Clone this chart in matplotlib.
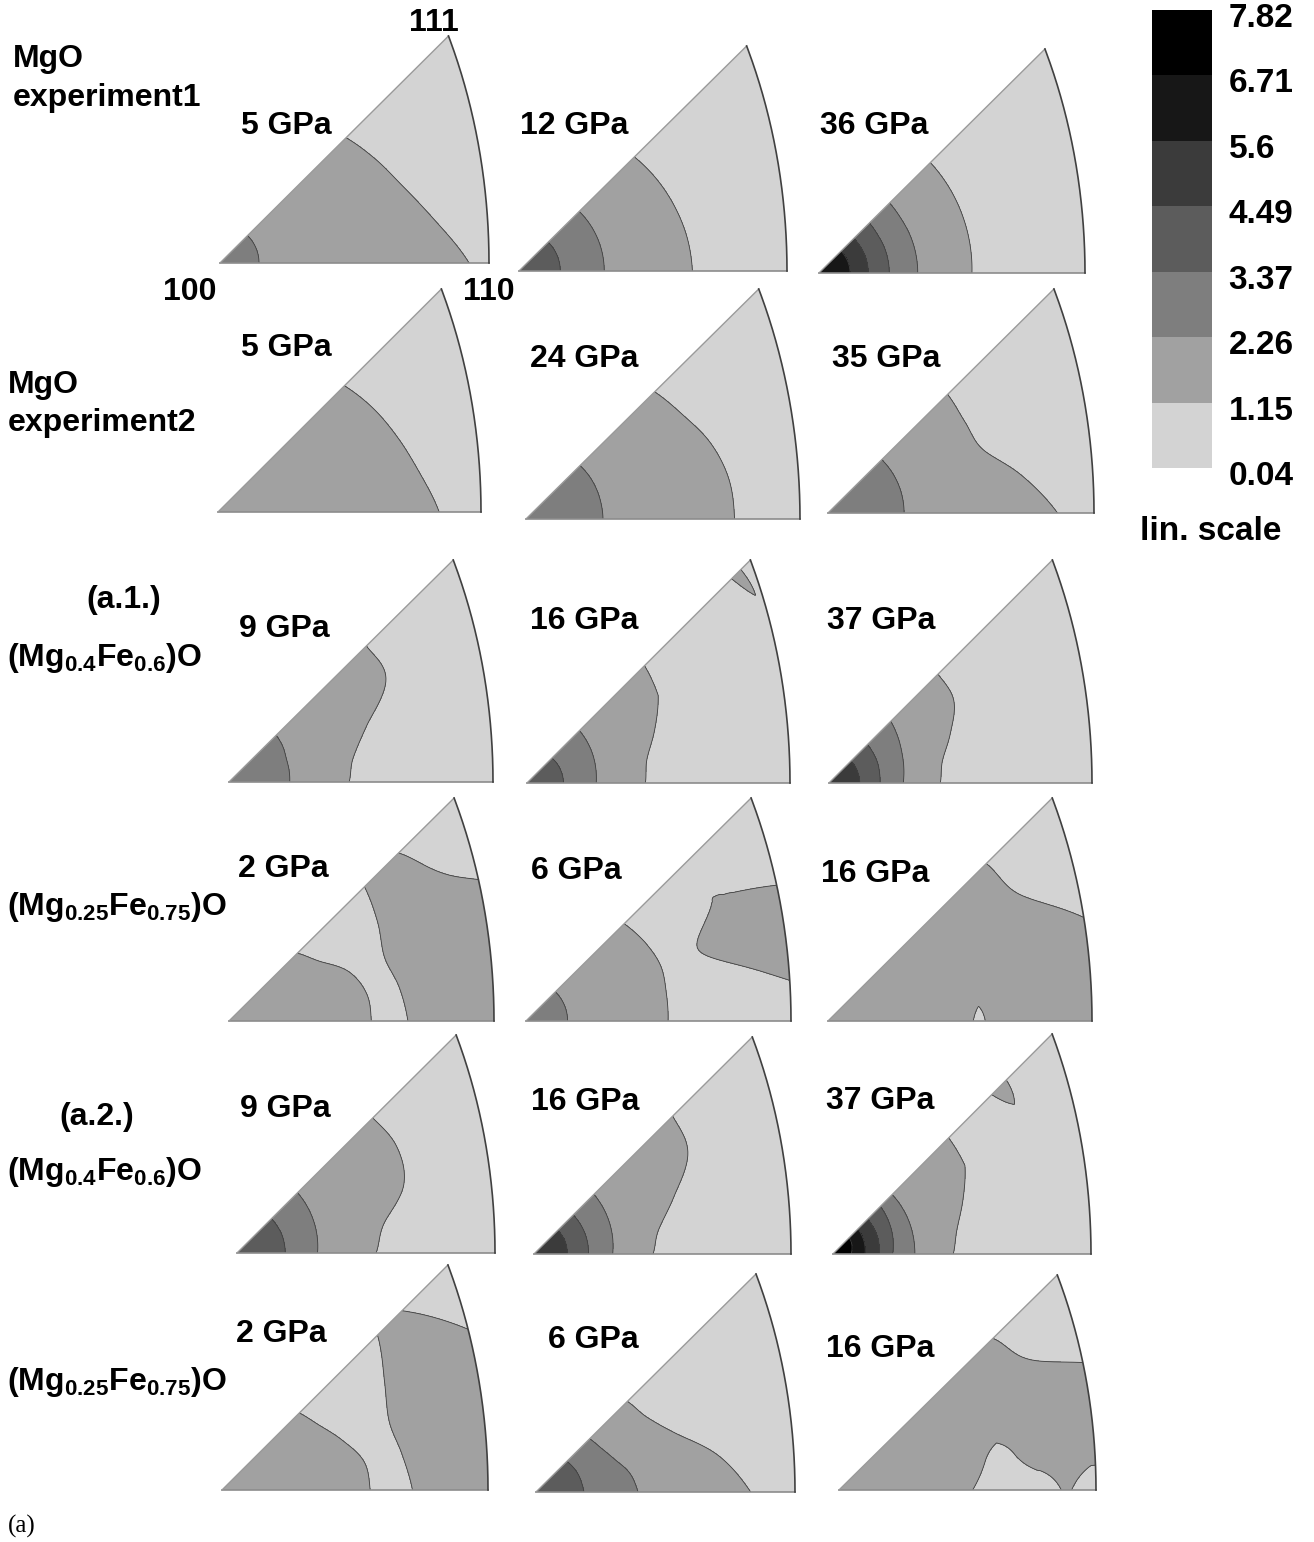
import numpy as np
import matplotlib
matplotlib.use('Agg')
import matplotlib.pyplot as plt
from matplotlib.colors import ListedColormap, BoundaryNorm
from matplotlib.cm import ScalarMappable
from matplotlib.patches import PathPatch
from matplotlib.path import Path
from matplotlib.transforms import ScaledTranslation

plt.rcParams['font.family'] = ['Liberation Sans', 'DejaVu Sans']
plt.rcParams['font.weight'] = 'bold'
plt.rcParams['mathtext.fontset'] = 'custom'
plt.rcParams['mathtext.rm'] = 'Liberation Sans:bold'
plt.rcParams['mathtext.bf'] = 'Liberation Sans:bold'
plt.rcParams['mathtext.it'] = 'Liberation Sans:bold'

# colour scale (lin. scale)
levels = [0.04, 1.15, 2.26, 3.37, 4.49, 5.6, 6.71, 7.82]
level_labels = ['0.04', '1.15', '2.26', '3.37', '4.49', '5.6', '6.71', '7.82']
band_colors = ['#d3d3d3', '#a1a1a1', '#7e7e7e', '#5c5c5c', '#3b3b3b', '#171717', '#000000']

# rays from the 100 corner (deg) on which band boundaries were read
ray_angles = [0, 11.25, 22.5, 33.75, 45]

# per panel, per ray: (radii where a boundary is crossed, relative to |100-110|), band sequence
# (radii beyond the 110-111 arc, or a repeated radius, only keep neighbouring rays consistent)
r1c1 = [([.145, .926], [2, 1, 0]), ([.145, .815], [2, 1, 0]), ([.145, .74], [2, 1, 0]),
        ([.145, .697], [2, 1, 0]), ([.145, .663], [2, 1, 0])]
r1c2 = [([.154, .318, .647], [3, 2, 1, 0]), ([.154, .318, .64], [3, 2, 1, 0]),
        ([.154, .318, .63], [3, 2, 1, 0]), ([.154, .318, .62], [3, 2, 1, 0]),
        ([.154, .318, .609], [3, 2, 1, 0])]
r1c3 = [([.117, .185, .264, .371, .575], [5, 4, 3, 2, 1, 0]),
        ([.117, .185, .264, .371, .578], [5, 4, 3, 2, 1, 0]),
        ([.117, .185, .264, .371, .582], [5, 4, 3, 2, 1, 0]),
        ([.117, .185, .264, .371, .587], [5, 4, 3, 2, 1, 0]),
        ([.118, .185, .268, .375, .592], [5, 4, 3, 2, 1, 0])]
r2c1 = [([.841], [1, 0]), ([.78], [1, 0]), ([.74], [1, 0]), ([.71], [1, 0]), ([.68], [1, 0])]
r2c2 = [([.281, .761], [2, 1, 0]), ([.28, .755], [2, 1, 0]), ([.28, .73], [2, 1, 0]),
        ([.28, .69], [2, 1, 0]), ([.279, .664], [2, 1, 0])]
r2c3 = [([.286, .863], [2, 1, 0]), ([.286, .74], [2, 1, 0]), ([.286, .63], [2, 1, 0]),
        ([.286, .62], [2, 1, 0]), ([.286, .636], [2, 1, 0])]
r3c1 = [([.23, .455], [2, 1, 0]), ([.232, .48], [2, 1, 0]), ([.235, .565], [2, 1, 0]),
        ([.245, .715], [2, 1, 0]), ([.253, .736], [2, 1, 0])]
r3c2 = [([.139, .263, .45], [3, 2, 1, 0]), ([.138, .267, .465], [3, 2, 1, 0]),
        ([.137, .272, .525], [3, 2, 1, 0]), ([.136, .277, .60], [3, 2, 1, 0]),
        ([.134, .282, .632, 1.10, 1.15], [3, 2, 1, 0, 1, 0])]
r3c3 = [([.117, .194, .282, .423], [4, 3, 2, 1, 0]), ([.117, .196, .29, .44], [4, 3, 2, 1, 0]),
        ([.117, .2, .30, .50], [4, 3, 2, 1, 0]), ([.118, .203, .315, .57], [4, 3, 2, 1, 0]),
        ([.118, .207, .332, .586], [4, 3, 2, 1, 0])]
r4c1 = [([.537, .675, 1.3], [1, 0, 1, 0]), ([.53, .655, 1.3], [1, 0, 1, 0]),
        ([.49, .635, 1.25], [1, 0, 1, 0]), ([.41, .675, 1.0], [1, 0, 1, 0]),
        ([.365, .723, .905], [1, 0, 1, 0])]
r4c2 = [([.157, .536, 1.35, 1.35], [2, 1, 0, 1, 0]), ([.157, .54, .93, 1.3], [2, 1, 0, 1, 0]),
        ([.157, .55, .705, 1.3], [2, 1, 0, 1, 0]), ([.157, .54, .85, .85], [2, 1, 0, 1, 0]),
        ([.157, .524], [2, 1, 0])]
r4c3 = [([.55, .596], [1, 0, 1]), ([1.25], [1, 0]), ([1.04], [1, 0]), ([.87], [1, 0]),
        ([.848], [1, 0])]
r5c1 = [([.187, .312, .539], [3, 2, 1, 0]), ([.187, .317, .58], [3, 2, 1, 0]),
        ([.188, .322, .70], [3, 2, 1, 0]), ([.188, .327, .745], [3, 2, 1, 0]),
        ([.189, .332, .744], [3, 2, 1, 0])]
r5c2 = [([.13, .212, .306, .463], [4, 3, 2, 1, 0]), ([.13, .213, .312, .495], [4, 3, 2, 1, 0]),
        ([.131, .214, .318, .59], [4, 3, 2, 1, 0]), ([.131, .215, .324, .72], [4, 3, 2, 1, 0]),
        ([.132, .216, .33, .763], [4, 3, 2, 1, 0])]
r5c3 = [([.07, .124, .179, .231, .317, .466], [6, 5, 4, 3, 2, 1, 0]),
        ([.075, .127, .182, .238, .318, .49], [6, 5, 4, 3, 2, 1, 0]),
        ([.08, .13, .185, .245, .32, .545], [6, 5, 4, 3, 2, 1, 0]),
        ([.085, .133, .187, .252, .322, .615], [6, 5, 4, 3, 2, 1, 0]),
        ([.09, .137, .19, .26, .324, .634, .87, .95], [6, 5, 4, 3, 2, 1, 0, 1, 0])]
r6c1 = [([.557, .716, 1.3], [1, 0, 1, 0]), ([.545, .69, 1.3], [1, 0, 1, 0]),
        ([.49, .68, 1.25], [1, 0, 1, 0]), ([.44, .735, 1.1], [1, 0, 1, 0]),
        ([.411, .827, .957], [1, 0, 1, 0])]
r6c2 = [([.185, .394, .829], [3, 2, 1, 0]), ([.18, .37, .72], [3, 2, 1, 0]),
        ([.177, .33, .59], [3, 2, 1, 0]), ([.173, .305, .52], [3, 2, 1, 0]),
        ([.169, .293, .499], [3, 2, 1, 0])]
r6c3 = [([.52, .865, .905], [1, 0, 1, 0]), ([.58, .70], [1, 0, 1]), ([1.25], [1, 0]),
        ([.92], [1, 0]), ([.847], [1, 0])]

panels = [[r1c1, r1c2, r1c3], [r2c1, r2c2, r2c3], [r3c1, r3c2, r3c3],
          [r4c1, r4c2, r4c3], [r5c1, r5c2, r5c3], [r6c1, r6c2, r6c3]]
pressures = [['5 GPa', '12 GPa', '36 GPa'], ['5 GPa', '24 GPa', '35 GPa'],
             ['9 GPa', '16 GPa', '37 GPa'], ['2 GPa', '6 GPa', '16 GPa'],
             ['9 GPa', '16 GPa', '37 GPa'], ['2 GPa', '6 GPa', '16 GPa']]

# layout in pixels: 100 corner x, 110 corner x, bottom y, 111 apex y
boxes = [[(220, 489, 263, 36), (519, 787, 271, 46), (819, 1085, 273, 49)],
         [(218, 481, 512, 289), (526, 800, 519, 289), (828, 1094, 513, 289)],
         [(229, 493, 782, 560), (527, 790, 783, 560), (829, 1092, 783, 560)],
         [(229, 494, 1021, 798), (526, 791, 1021, 798), (828, 1092, 1021, 798)],
         [(237, 495, 1253, 1035), (534, 791, 1254, 1037), (833, 1091, 1254, 1034)],
         [(222, 488, 1490, 1265), (536, 795, 1492, 1274), (839, 1096, 1490, 1275)]]
title_pos = [[(241, 134), (520, 134), (820, 134)],
             [(241, 356), (530, 367), (832, 367)],
             [(239, 637), (530, 629), (827, 629)],
             [(238, 877), (531, 879), (821, 882)],
             [(240, 1117), (531, 1110), (826, 1109)],
             [(236, 1342), (548, 1348), (826, 1357)]]

W, H = 1314, 1542
fig = plt.figure(figsize=(W / 100, H / 100), dpi=100)


def ptext(x, y, s, **kw):
    kw.setdefault('fontsize', 23)
    kw.setdefault('fontweight', 'bold')
    fig.text(x / W, 1 - y / H, s, va='baseline', **kw)


# equal-area inverse pole figure triangle (100 - 110 - 111)
t = np.linspace(0, 1, 200)
nrm = np.sqrt(2 + t ** 2)
kk = np.sqrt(2 / (1 + 1 / nrm))
arc_x, arc_y = kk / nrm, kk * t / nrm
R110 = arc_x[0]
TOP = arc_y[-1]
tri_verts = np.vstack([[0, 0], np.column_stack([arc_x, arc_y]), [0, 0]])

xs = np.linspace(0, R110 + 0.005, 440)
ys = np.linspace(0, TOP + 0.005, 380)
X, Y = np.meshgrid(xs, ys)
TH = np.clip(np.degrees(np.arctan2(Y, X)), 0, 45)
RR = np.hypot(X, Y) / R110
R_END = 1.6
RAMP = 0.08


def ray_knots(cross, bands):
    mids = [(levels[b] + levels[b + 1]) / 2 for b in bands]
    edges = [0.0] + list(cross) + [R_END]
    rs, vs = [], []
    for i in range(len(bands)):
        a, b = edges[i], edges[i + 1]
        if b - a > 1e-9:
            lo = a if i == 0 else min(a + RAMP, (a + b) / 2)
            hi = b if i == len(bands) - 1 else max(b - RAMP, (a + b) / 2)
            if not rs or lo > rs[-1]:
                rs.append(lo)
                vs.append(mids[i])
            if hi > rs[-1]:
                rs.append(hi)
                vs.append(mids[i])
        if i < len(cross):
            c = edges[i + 1]
            if c > rs[-1]:
                rs.append(c)
                vs.append(levels[max(bands[i], bands[i + 1])])
    return rs, vs


def same(a, b):
    return a[1] == b[1] and len(a[0]) == len(b[0])


def fine_rays(rays):
    # boundaries with the same band sequence on neighbouring rays are joined
    # by a smooth (Hermite) curve; otherwise the sector is blended directly
    n = len(rays)
    step = ray_angles[1] - ray_angles[0]
    out = []

    def slope(j, i0, i1):
        lo = j - 1 if j - 1 >= 0 and same(rays[j - 1], rays[j]) else None
        hi = j + 1 if j + 1 < n and same(rays[j + 1], rays[j]) else None
        if lo is not None and hi is not None:
            return (np.asarray(rays[hi][0]) - np.asarray(rays[lo][0])) / 2
        return np.asarray(rays[i1][0]) - np.asarray(rays[i0][0])

    for i in range(n - 1):
        out.append((ray_angles[i], list(rays[i][0]), rays[i][1]))
        if same(rays[i], rays[i + 1]) and len(rays[i][0]) > 0:
            cA = np.asarray(rays[i][0], float)
            cB = np.asarray(rays[i + 1][0], float)
            mA = slope(i, i, i + 1)
            mB = slope(i + 1, i, i + 1)
            for s in np.linspace(0, 1, 14)[1:-1]:
                h00 = 2 * s ** 3 - 3 * s ** 2 + 1
                h10 = s ** 3 - 2 * s ** 2 + s
                h01 = -2 * s ** 3 + 3 * s ** 2
                h11 = s ** 3 - s ** 2
                c = h00 * cA + h10 * mA + h01 * cB + h11 * mB
                out.append((ray_angles[i] + s * step, list(np.sort(c)), rays[i][1]))
    out.append((ray_angles[-1], list(rays[-1][0]), rays[-1][1]))
    return out


def field(rays):
    fr = fine_rays(rays)
    angs = np.array([a for a, _, _ in fr])
    prof = np.array([np.interp(RR, *ray_knots(c, b)) for _, c, b in fr])
    idx = np.clip(np.searchsorted(angs, TH, side='right') - 1, 0, len(angs) - 2)
    w = (TH - angs[idx]) / (angs[idx + 1] - angs[idx])
    lo = np.take_along_axis(prof, idx[None], axis=0)[0]
    hi = np.take_along_axis(prof, (idx + 1)[None], axis=0)[0]
    return (1 - w) * lo + w * hi


for row in range(6):
    for col in range(3):
        x0, x1, yb, yt = boxes[row][col]
        ax = fig.add_axes([x0 / W, 1 - yb / H, (x1 - x0) / W, (yb - yt) / H])
        ax.set_xlim(0, R110)
        ax.set_ylim(0, TOP)
        ax.axis('off')
        patch = PathPatch(Path(tri_verts), facecolor='none', edgecolor='none')
        ax.add_patch(patch)
        F = field(panels[row][col])
        cf = ax.contourf(X, Y, F, levels=levels, colors=band_colors)
        cf.set_clip_path(patch)
        cl = ax.contour(X, Y, F, levels=levels[1:-1], colors='#404040', linewidths=0.6)
        cl.set_clip_path(patch)
        ax.plot([0, R110], [0, 0], color='#8c8c8c', lw=1.2, clip_on=False)
        ax.plot([0, TOP], [0, TOP], color='#9a9a9a', lw=1.0, clip_on=False)
        ax.plot(arc_x, arc_y, color='#404040', lw=1.2, clip_on=False)
        tx, ty = title_pos[row][col]
        ptext(tx, ty, pressures[row][col])

# corner labels
ptext(409, 31, '111')
ptext(163, 300, '100')
ptext(463, 300, '110')

# row labels
ptext(13, 67, 'MgO')
ptext(13, 106, 'experiment1')
ptext(8, 393, 'MgO')
ptext(8, 431, 'experiment2')
ptext(124, 608, '(a.1.)', ha='center')
ptext(7, 666, r'$\mathbf{(Mg_{0.4}Fe_{0.6})O}$')
ptext(7, 915, r'$\mathbf{(Mg_{0.25}Fe_{0.75})O}$')
ptext(97, 1125, '(a.2.)', ha='center')
ptext(7, 1180, r'$\mathbf{(Mg_{0.4}Fe_{0.6})O}$')
ptext(7, 1390, r'$\mathbf{(Mg_{0.25}Fe_{0.75})O}$')
ptext(8, 1533, '(a)', fontsize=18, fontweight='normal', family='Liberation Serif')

# colour bar
cax = fig.add_axes([1152 / W, 1 - 468 / H, 60 / W, 458 / H])
sm = ScalarMappable(norm=BoundaryNorm(levels, len(band_colors)), cmap=ListedColormap(band_colors))
cb = fig.colorbar(sm, cax=cax, ticks=levels)
cb.outline.set_visible(False)
cb.ax.set_yticklabels(level_labels, fontsize=24, fontweight='bold')
cb.ax.tick_params(length=0, pad=12)
shift = ScaledTranslation(0, -5 / 100, fig.dpi_scale_trans)
for lab in cb.ax.get_yticklabels():
    lab.set_transform(lab.get_transform() + shift)
ptext(1140, 540, 'lin. scale', fontsize=24)

fig.savefig('out.png', dpi=100)
